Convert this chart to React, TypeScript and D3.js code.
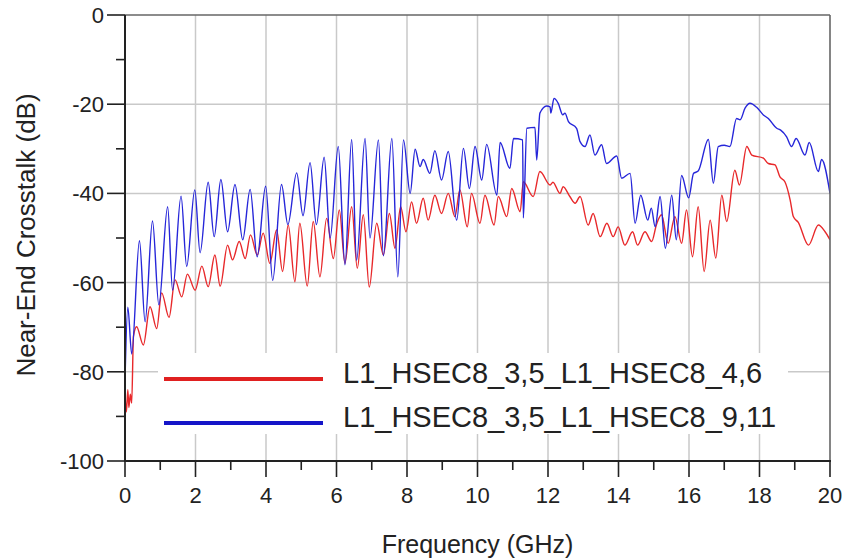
import React from 'react';
import * as d3 from 'd3';

// frequency (GHz), near-end crosstalk (dB)
const redFreq = [0, 0.04, 0.08, 0.11, 0.15, 0.19, 0.24, 0.33, 0.52, 0.71, 0.9, 1.04, 1.25, 1.42, 1.61, 1.77, 1.99, 2.18, 2.36, 2.55, 2.7, 2.91, 3.05, 3.24, 3.41, 3.56, 3.75, 3.92, 4.11, 4.3, 4.47, 4.63, 4.82, 4.96, 5.17, 5.34, 5.53, 5.72, 5.91, 6.08, 6.24, 6.43, 6.59, 6.76, 6.93, 7.14, 7.33, 7.5, 7.66, 7.82, 7.97, 8.13, 8.27, 8.46, 8.6, 8.79, 8.98, 9.17, 9.36, 9.5, 9.71, 9.83, 10.07, 10.21, 10.47, 10.59, 10.83, 10.97, 11.21, 11.3, 11.58, 11.77, 12.06, 12.14, 12.34, 12.43, 12.62, 12.77, 12.91, 13.14, 13.28, 13.48, 13.67, 13.85, 13.99, 14.18, 14.4, 14.54, 14.75, 14.94, 15.08, 15.22, 15.41, 15.6, 15.79, 15.93, 16.1, 16.26, 16.43, 16.6, 16.76, 16.93, 17.07, 17.3, 17.43, 17.64, 17.78, 18.11, 18.25, 18.44, 18.58, 18.72, 18.87, 18.96, 19.1, 19.39, 19.67, 19.86, 20];
const redDb = [-85, -89, -84, -88, -85, -87, -72, -69.9, -74, -65.4, -70.3, -62.3, -67.8, -59.4, -63.2, -58.1, -61.7, -56.3, -60.9, -53.8, -60.8, -51.6, -54.9, -50.8, -54.6, -49.3, -53.8, -48.9, -55.7, -48.2, -57.5, -47.1, -59.8, -46.7, -60.8, -46.3, -58.7, -45.6, -54.6, -43.7, -55.7, -43, -56.8, -44.8, -61, -46.7, -53.8, -44.5, -52.3, -43, -48.6, -41.9, -46.7, -41.1, -46, -40.4, -44.5, -40, -45.2, -39.2, -47.5, -40, -46.7, -40.4, -47.1, -40.7, -45.2, -38.9, -44.1, -37.4, -40.7, -35.1, -38.1, -37.5, -40, -38.5, -40.7, -42.2, -40.7, -47.1, -44.5, -49.7, -46.7, -49.7, -47.5, -51.6, -48.6, -51.6, -48.6, -50.8, -46.9, -44.8, -51.2, -45.2, -51.2, -43.7, -54.2, -43, -57.5, -46, -54.5, -40.4, -46.3, -34.8, -38.1, -29.5, -31.4, -32.1, -33.3, -33.6, -36.3, -37.4, -41.5, -45.2, -46.5, -51.6, -47.1, -48.6, -50.4];

const blueFreq = [0, 0.08, 0.19, 0.41, 0.57, 0.78, 0.96, 1.21, 1.35, 1.59, 1.75, 1.98, 2.13, 2.36, 2.53, 2.72, 2.91, 3.12, 3.34, 3.55, 3.75, 3.99, 4.19, 4.44, 4.62, 4.87, 5.05, 5.25, 5.43, 5.65, 5.82, 6.05, 6.24, 6.43, 6.57, 6.81, 6.95, 7.19, 7.33, 7.57, 7.74, 7.9, 8.09, 8.23, 8.37, 8.46, 8.65, 8.79, 8.98, 9.17, 9.41, 9.6, 9.77, 9.93, 10.12, 10.26, 10.55, 10.64, 10.92, 11.02, 11.28, 11.3, 11.4, 11.63, 11.68, 11.77, 11.96, 12.06, 12.08, 12.17, 12.29, 12.42, 12.48, 12.58, 12.81, 12.91, 13.05, 13.19, 13.33, 13.52, 13.66, 13.95, 14.09, 14.33, 14.47, 14.63, 14.83, 14.93, 15.04, 15.18, 15.33, 15.51, 15.64, 15.79, 15.99, 16.13, 16.26, 16.55, 16.69, 16.83, 17.0, 17.16, 17.35, 17.45, 17.59, 17.73, 17.92, 18.11, 18.25, 18.49, 18.6, 18.77, 18.91, 19.04, 19.29, 19.41, 19.67, 19.76, 20];
const blueDb = [-82, -65.5, -76, -50.6, -68.8, -46.2, -65, -43, -61.7, -40.6, -56.4, -39.2, -53.3, -37.5, -49.7, -36.9, -48.6, -38, -50.4, -39.1, -54.2, -38.4, -59.5, -38, -47, -35.4, -45, -33.1, -47, -31.9, -50, -29.5, -56, -27.9, -55, -27.7, -50, -28, -54, -27.7, -58.7, -28, -40, -30.1, -34, -32.4, -35.5, -30.4, -37, -30.6, -46, -29.9, -38.9, -29.5, -37, -29, -40.4, -28.6, -34.4, -27.7, -28, -45.5, -25.4, -25.2, -32.5, -22, -20.4, -20.6, -22, -18.7, -19.8, -22.4, -22, -23.9, -25.4, -28.4, -29.5, -26.9, -31.4, -29.1, -33.3, -31.6, -36.6, -35.5, -46.7, -40.4, -46, -43.3, -47.5, -40.7, -52.3, -40.4, -50.4, -36, -41, -35.5, -35, -27.9, -37.7, -29.5, -29.2, -29.5, -23.2, -23.5, -20.9, -19.8, -20.7, -22.4, -23.2, -25.4, -25.8, -27.3, -29.5, -27.7, -31.4, -28.6, -35.1, -32.4, -40];

const xTicks = [0, 2, 4, 6, 8, 10, 12, 14, 16, 18, 20];
const xMinor = [1, 3, 5, 7, 9, 11, 13, 15, 17, 19];
const yTicks = [0, -20, -40, -60, -80, -100];
const yMinor = [-10, -30, -50, -70, -90];

const series = [
  { name: 'L1_HSEC8_3,5_L1_HSEC8_4,6', color: '#e8292b', freq: redFreq, db: redDb },
  { name: 'L1_HSEC8_3,5_L1_HSEC8_9,11', color: '#2626d9', freq: blueFreq, db: blueDb },
];

const W = 844, H = 560;
const left = 125, right = 830, top = 15, bottom = 461;
const font = '"Liberation Sans", Arial, sans-serif';

export default function App() {
  const x = d3.scaleLinear().domain([0, 20]).range([left, right]);
  const y = d3.scaleLinear().domain([-100, 0]).range([bottom, top]);

  const line = d3.line<[number, number]>()
    .x(d => x(d[0]))
    .y(d => y(d[1]))
    .curve(d3.curveMonotoneX);

  return (
    <svg width={W} height={H} style={{ position: 'absolute', left: 0, top: 0, background: '#fff' }} fontFamily={font}>
      {/* grid */}
      {xTicks.slice(1, -1).map(t => (
        <line key={'gx' + t} x1={x(t)} x2={x(t)} y1={top} y2={bottom} stroke="#c9c9c9" strokeWidth={1.5} />
      ))}
      {yTicks.slice(1, -1).map(t => (
        <line key={'gy' + t} x1={left} x2={right} y1={y(t)} y2={y(t)} stroke="#c9c9c9" strokeWidth={1.5} />
      ))}

      {/* data */}
      <defs>
        <clipPath id="plotclip">
          <rect x={left} y={top} width={right - left} height={bottom - top} />
        </clipPath>
      </defs>
      <g clipPath="url(#plotclip)">
        {series.map(s => (
          <path key={s.name}
            d={line(s.freq.map((f, i) => [f, s.db[i]] as [number, number])) || ''}
            fill="none" stroke={s.color} strokeWidth={1.4} strokeLinejoin="round" />
        ))}
      </g>

      {/* legend */}
      <rect x={158} y={353} width={630} height={81} fill="#fff" />
      {series.map((s, i) => (
        <g key={'lg' + i}>
          <line x1={164} x2={323} y1={379 + i * 44} y2={379 + i * 44} stroke={i === 0 ? '#e02020' : '#1515c8'} strokeWidth={4} />
          <text x={343} y={383 + i * 44} fontSize={29} fill="#222">{s.name}</text>
        </g>
      ))}

      {/* frame */}
      <line x1={left} x2={right} y1={top} y2={top} stroke="#666" strokeWidth={1.6} />
      <line x1={right} x2={right} y1={top} y2={bottom} stroke="#666" strokeWidth={1.6} />
      <line x1={left} x2={left} y1={top} y2={bottom + 1} stroke="#222" strokeWidth={2} />
      <line x1={left - 1} x2={right + 1} y1={bottom} y2={bottom} stroke="#222" strokeWidth={2} />

      {/* ticks */}
      {xTicks.map(t => (
        <g key={'xt' + t}>
          <line x1={x(t)} x2={x(t)} y1={bottom} y2={bottom + 16} stroke="#222" strokeWidth={1.6} />
          <text x={x(t)} y={503} textAnchor="middle" fontSize={22} fill="#222">{t}</text>
        </g>
      ))}
      {xMinor.map(t => (
        <line key={'xm' + t} x1={x(t)} x2={x(t)} y1={bottom} y2={bottom + 9} stroke="#222" strokeWidth={1.6} />
      ))}
      {yTicks.map(t => (
        <g key={'yt' + t}>
          <line x1={left - 18} x2={left} y1={y(t)} y2={y(t)} stroke="#222" strokeWidth={1.6} />
          <text x={104} y={y(t) + 8} textAnchor="end" fontSize={22} fill="#222">{t}</text>
        </g>
      ))}
      {yMinor.map(t => (
        <line key={'ym' + t} x1={left - 9} x2={left} y1={y(t)} y2={y(t)} stroke="#222" strokeWidth={1.6} />
      ))}

      {/* axis titles */}
      <text x={(left + right) / 2} y={553} textAnchor="middle" fontSize={25} fill="#222">Frequency (GHz)</text>
      <text transform={`translate(35,235) rotate(-90)`} textAnchor="middle" fontSize={26} fill="#222">Near-End Crosstalk (dB)</text>
    </svg>
  );
}
